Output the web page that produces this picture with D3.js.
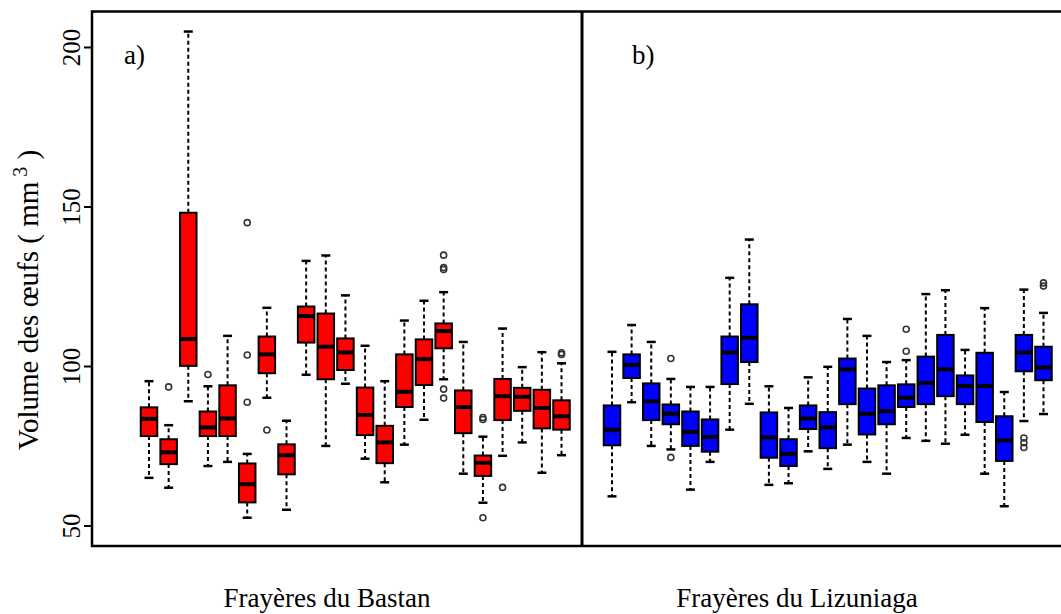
<!DOCTYPE html>
<html>
<head>
	<title>Volume des oeufs</title>
	<script src="https://d3js.org/d3.v7.min.js"></script>
	<style type="text/css">
		body {
			margin: 0;
			background: white;
		}
		svg {
			display: block;
		}
		text {
			font-family: "Liberation Serif", "DejaVu Serif", serif;
			fill: #000;
		}
	</style>
</head>
<body>
<script type="text/javascript">

	// ---- data ----
	// Bastan spawning sites (22 boxes, red)
	var bastanLow  = [65.1, 62.0, 89.1, 68.8, 70.1, 52.6, 90.2, 55.1, 97.4, 75.1, 94.6, 71.1, 63.7, 75.5, 83.3, 96.0, 66.4, 57.3, 72.0, 76.2, 66.7, 72.2];
	var bastanQ1   = [78.2, 69.4, 100.2, 78.2, 78.2, 57.4, 97.9, 66.2, 107.5, 96.0, 98.9, 78.5, 69.7, 87.3, 94.2, 105.7, 79.1, 65.7, 83.2, 86.1, 80.6, 80.2];
	var bastanMed  = [83.6, 73.1, 108.6, 80.9, 83.7, 63.1, 103.8, 72.2, 115.8, 106.2, 104.4, 84.8, 76.2, 92.1, 102.3, 111.1, 87.3, 69.8, 90.7, 90.5, 87.0, 84.4];
	var bastanQ3   = [87.2, 77.2, 148.2, 85.9, 94.1, 69.6, 109.4, 75.6, 118.8, 116.6, 108.8, 93.4, 81.4, 103.8, 108.5, 113.5, 92.5, 72.1, 96.1, 93.3, 92.7, 89.4];
	var bastanHigh = [95.4, 81.6, 205.0, 93.8, 109.6, 72.6, 118.4, 83.0, 133.1, 134.8, 122.3, 106.5, 95.4, 114.4, 120.6, 123.3, 107.7, 78.0, 111.9, 99.8, 104.5, 101.0];
	var bastanOut  = [[], [93.6], [], [97.5], [], [145.1, 103.6, 88.8], [80.1], [], [], [], [], [], [], [], [],
		[134.9, 130.4, 131.0, 92.9, 90.1], [], [83.4, 84.0, 52.6], [62.1], [], [], [103.8, 104.3]];

	// Lizuniaga spawning sites (23 boxes, blue)
	var lizLow  = [59.3, 88.8, 75.1, 74.0, 61.4, 70.1, 80.2, 88.3, 62.9, 63.4, 73.4, 67.9, 75.5, 70.1, 66.4, 77.6, 76.7, 75.8, 78.6, 66.4, 56.2, 82.9, 85.1];
	var lizQ1   = [75.3, 96.4, 83.2, 81.9, 75.1, 73.3, 94.5, 101.4, 71.4, 68.8, 80.4, 74.4, 88.2, 78.7, 81.9, 87.3, 88.2, 90.7, 88.2, 82.6, 70.4, 98.5, 95.7];
	var lizMed  = [80.2, 100.5, 89.1, 85.2, 79.5, 77.9, 104.4, 109.0, 77.8, 72.6, 83.7, 80.9, 99.1, 85.2, 86.0, 90.2, 94.8, 99.1, 93.9, 93.9, 76.8, 104.4, 99.7];
	var lizQ3   = [87.8, 103.8, 94.7, 88.1, 85.9, 83.4, 109.4, 119.5, 85.6, 77.2, 87.8, 85.7, 102.5, 93.1, 94.1, 94.4, 103.1, 109.9, 97.2, 104.3, 84.4, 109.9, 106.2];
	var lizHigh = [104.6, 113.0, 107.7, 96.1, 93.6, 93.6, 127.8, 139.8, 93.8, 87.0, 96.6, 99.9, 114.9, 109.6, 101.4, 102.0, 122.7, 123.9, 105.2, 118.3, 92.0, 124.1, 116.8];
	var lizOut  = [[], [], [], [102.5, 71.5], [], [], [], [], [], [], [], [], [], [], [],
		[111.7, 104.8], [], [], [], [], [], [77.6, 76.1, 74.6], [126.2, 125.2]];

	var yTicks = [50, 100, 150, 200];
	var panelTags = ["a)", "b)"];
	var siteNames = ["Frayères du Bastan", "Frayères du Lizuniaga"];

	// ---- layout ----
	var width = 1061, height = 614;
	var frameLeft = 92, frameRight = 1075, divider = 582;
	var boxW = 16.5, capW = 9;

	var svg = d3.select("body").append("svg")
		.attr("width", width)
		.attr("height", height);

	// y scale: R usr limits ~ [43.7, 211.3]
	var y = d3.scaleLinear()
		.domain([50, 200])
		.range([526, 47.5]);
	var frameTop = y(211.3), frameBottom = y(43.7);

	// one x scale per panel (box index -> centre)
	var xBastan = d3.scaleLinear().domain([1, 22]).range([149, 561.5]);
	var xLiz = d3.scaleLinear().domain([1, 23]).range([612, 1043.5]);

	function buildRows(lo, q1, med, q3, hi, out) {
		return lo.map(function(d, i) {
			return { i: i + 1, lo: lo[i], q1: q1[i], med: med[i], q3: q3[i], hi: hi[i], out: out[i] };
		});
	}

	var panels = [
		{ x: xBastan, fill: "#ff0000", rows: buildRows(bastanLow, bastanQ1, bastanMed, bastanQ3, bastanHigh, bastanOut) },
		{ x: xLiz, fill: "#0000ff", rows: buildRows(lizLow, lizQ1, lizMed, lizQ3, lizHigh, lizOut) }
	];

	// draw boxplots
	panels.forEach(function(p) {
		var g = svg.append("g");
		var b = g.selectAll("g.box")
			.data(p.rows)
			.enter().append("g")
			.attr("class", "box");

		// whiskers (dashed)
		b.append("line")
			.attr("x1", function(d) { return p.x(d.i); })
			.attr("x2", function(d) { return p.x(d.i); })
			.attr("y1", function(d) { return y(d.q3); })
			.attr("y2", function(d) { return y(d.hi); })
			.attr("stroke", "#000").attr("stroke-width", 2)
			.attr("stroke-dasharray", "4,3");
		b.append("line")
			.attr("x1", function(d) { return p.x(d.i); })
			.attr("x2", function(d) { return p.x(d.i); })
			.attr("y1", function(d) { return y(d.q1); })
			.attr("y2", function(d) { return y(d.lo); })
			.attr("stroke", "#000").attr("stroke-width", 2)
			.attr("stroke-dasharray", "4,3");

		// staples
		["hi", "lo"].forEach(function(k) {
			b.append("line")
				.attr("x1", function(d) { return p.x(d.i) - capW / 2; })
				.attr("x2", function(d) { return p.x(d.i) + capW / 2; })
				.attr("y1", function(d) { return y(d[k]); })
				.attr("y2", function(d) { return y(d[k]); })
				.attr("stroke", "#000").attr("stroke-width", 2.5);
		});

		// box
		b.append("rect")
			.attr("x", function(d) { return p.x(d.i) - boxW / 2; })
			.attr("y", function(d) { return y(d.q3); })
			.attr("width", boxW)
			.attr("height", function(d) { return y(d.q1) - y(d.q3); })
			.attr("fill", p.fill)
			.attr("stroke", "#000").attr("stroke-width", 2);

		// median
		b.append("line")
			.attr("x1", function(d) { return p.x(d.i) - boxW / 2; })
			.attr("x2", function(d) { return p.x(d.i) + boxW / 2; })
			.attr("y1", function(d) { return y(d.med); })
			.attr("y2", function(d) { return y(d.med); })
			.attr("stroke", "#000").attr("stroke-width", 4);

		// outliers
		b.selectAll("circle")
			.data(function(d) { return d.out.map(function(v) { return { i: d.i, v: v }; }); })
			.enter().append("circle")
			.attr("cx", function(d) { return p.x(d.i); })
			.attr("cy", function(d) { return y(d.v); })
			.attr("r", 3)
			.attr("fill", "none")
			.attr("stroke", "#333").attr("stroke-width", 1.6);
	});

	// frame and divider
	var frame = svg.append("g").attr("stroke", "#000").attr("fill", "none");
	frame.append("path")
		.attr("d", "M" + frameRight + "," + frameTop + "H" + frameLeft + "V" + frameBottom + "H" + frameRight)
		.attr("stroke-width", 2.5);
	frame.append("line")
		.attr("x1", divider).attr("x2", divider)
		.attr("y1", frameTop).attr("y2", frameBottom)
		.attr("stroke-width", 3);

	// y axis (ticks outside, labels rotated like R las=0)
	var yAxis = svg.append("g");
	yAxis.selectAll("line")
		.data(yTicks)
		.enter().append("line")
		.attr("x1", frameLeft - 8).attr("x2", frameLeft)
		.attr("y1", function(d) { return y(d); })
		.attr("y2", function(d) { return y(d); })
		.attr("stroke", "#000").attr("stroke-width", 2);
	yAxis.selectAll("text")
		.data(yTicks)
		.enter().append("text")
		.attr("transform", function(d) { return "translate(80," + y(d) + ") rotate(-90)"; })
		.attr("text-anchor", "middle")
		.style("font-size", "25px")
		.text(function(d) { return d; });

	// y title
	var yTitle = svg.append("text")
		.attr("transform", "translate(38,300) rotate(-90)")
		.attr("text-anchor", "middle")
		.style("font-size", "29px");
	yTitle.append("tspan").text("Volume des œufs ( mm");
	yTitle.append("tspan").attr("dy", -11).style("font-size", "20px").text(" 3");
	yTitle.append("tspan").attr("dy", 11).text(" )");

	// panel tags
	svg.selectAll("text.tag")
		.data(panelTags)
		.enter().append("text")
		.attr("class", "tag")
		.attr("x", function(d, i) { return i === 0 ? 124 : 632; })
		.attr("y", 64)
		.style("font-size", "27px")
		.text(function(d) { return d; });

	// site names under each panel
	svg.selectAll("text.site")
		.data(siteNames)
		.enter().append("text")
		.attr("class", "site")
		.attr("x", function(d, i) { return i === 0 ? 327 : 797; })
		.attr("y", 607)
		.attr("text-anchor", "middle")
		.style("font-size", "27px")
		.text(function(d) { return d; });

</script>
</body>
</html>
